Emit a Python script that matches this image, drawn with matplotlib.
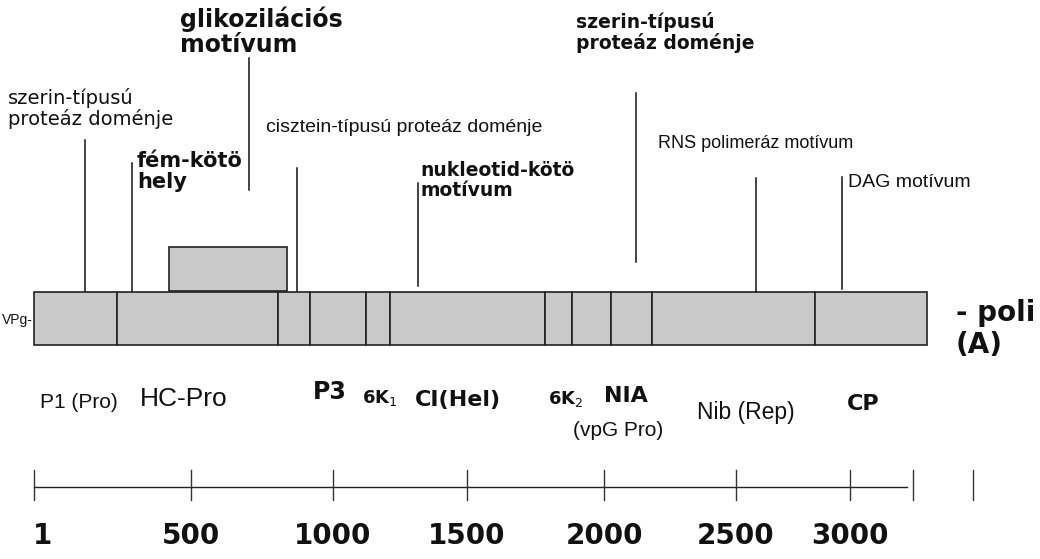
import matplotlib.pyplot as plt
from matplotlib.patches import Rectangle

# genome map, x in map units (hand-drawn scale, so not linear in residues)
segment_edges = [34, 117, 278, 310, 366, 390, 545, 572, 611, 652, 815, 927]
bar_top, bar_bottom = 292, 345
glyco_box = (169, 287, 247, 291)  # x0, x1, y0, y1

ruler_ticks = [34, 191, 333, 467, 604, 736, 850]
ruler_labels = ["1", "500", "1000", "1500", "2000", "2500", "3000"]
ruler_extra = [913, 973]

# motif markers: x, line top, line bottom
motif_x = [85, 132, 249, 297, 418, 636, 756, 842]
motif_top = [140, 163, 58, 168, 183, 93, 178, 177]
motif_bottom = [291, 291, 190, 291, 286, 262, 292, 289]

# motif labels
motif_text = ["szerin-típusú\nproteáz doménje", "fém-kötö\nhely", "glikozilációs\nmotívum",
              "cisztein-típusú proteáz doménje", "nukleotid-kötö\nmotívum",
              "szerin-típusú\nproteáz doménje", "RNS polimeráz motívum", "DAG motívum"]
motif_tx = [8, 137, 180, 266, 420, 576, 658, 848]
motif_ty = [88, 151, 6, 119, 161, 12, 135, 174]
motif_style = ["plain", "bold", "bold", "narrow", "bold", "bold", "narrow", "narrow"]
motif_size = [14, 15, 17, 14, 13.5, 13.5, 13, 14]

# protein labels below the bar
prot_text = ["P1 (Pro)", "HC-Pro", "P3", "6K$_{1}$", "CI(Hel)", "6K$_{2}$", "NIA",
             "(vpG Pro)", "Nib (Rep)", "CP"]
prot_x = [40, 140, 313, 362, 415, 548, 604, 573, 697, 847]
prot_y = [403, 399, 392, 398, 400, 399, 396, 430, 412, 404]
prot_size = [15, 19, 17, 13, 16, 13, 16, 15, 16.5, 16]
prot_style = ["narrow", "narrow", "wide", "wide", "wide", "wide", "wide", "narrow", "narrow", "wide"]

fig = plt.figure(figsize=(10.4, 5.59), dpi=100)
ax = fig.add_axes([0, 0, 1, 1])
ax.set_xlim(0, 1040)
ax.set_ylim(559, 0)
ax.axis("off")

narrow = ["Liberation Sans", "DejaVu Sans"]
wide = ["DejaVu Sans"]
ink = "#111111"
fill = "#c9c9c9"

# glycosylation box above HC-Pro
x0, x1, y0, y1 = glyco_box
ax.add_patch(Rectangle((x0, y0), x1 - x0, y1 - y0, facecolor=fill, edgecolor="#222222", lw=1.2))

# polyprotein segments
for a, b in zip(segment_edges[:-1], segment_edges[1:]):
    ax.add_patch(Rectangle((a, bar_top), b - a, bar_bottom - bar_top,
                           facecolor=fill, edgecolor="#222222", lw=1.2))

for x, t, b in zip(motif_x, motif_top, motif_bottom):
    ax.plot([x, x], [t, b], color=ink, lw=1.1)

for txt, x, y, st, s in zip(motif_text, motif_tx, motif_ty, motif_style, motif_size):
    ax.text(x, y, txt, family=narrow if st == "narrow" else wide,
            fontweight="bold" if st == "bold" else "normal",
            fontsize=s, va="top", ha="left", linespacing=1.08, color=ink)

ax.text(33, 320, "VPg-", family=narrow, fontsize=10, ha="right", va="center", color=ink)
ax.text(956, 329, "- poli\n(A)", family=wide, fontweight="bold", fontsize=20,
        ha="left", va="center", linespacing=1.15, color=ink)

for txt, x, y, s, st in zip(prot_text, prot_x, prot_y, prot_size, prot_style):
    if st == "wide":
        ax.text(x, y, txt, family=wide, fontweight="bold", fontsize=s,
                ha="left", va="center", color=ink)
    else:
        ax.text(x, y, txt, family=narrow, fontsize=s, ha="left", va="center", color=ink)

# ruler
ax.plot([ruler_ticks[0], 907], [487, 487], color="#222222", lw=1.0)
for x in ruler_ticks + ruler_extra:
    ax.plot([x, x], [470, 500], color="#333333", lw=1.0)
for x, lab in zip(ruler_ticks, ruler_labels):
    ax.text(x if lab != "1" else 43, 536, lab, family=wide, fontweight="bold",
            fontsize=20, ha="center", va="center", color=ink)

fig.savefig("out.png", dpi=100)
